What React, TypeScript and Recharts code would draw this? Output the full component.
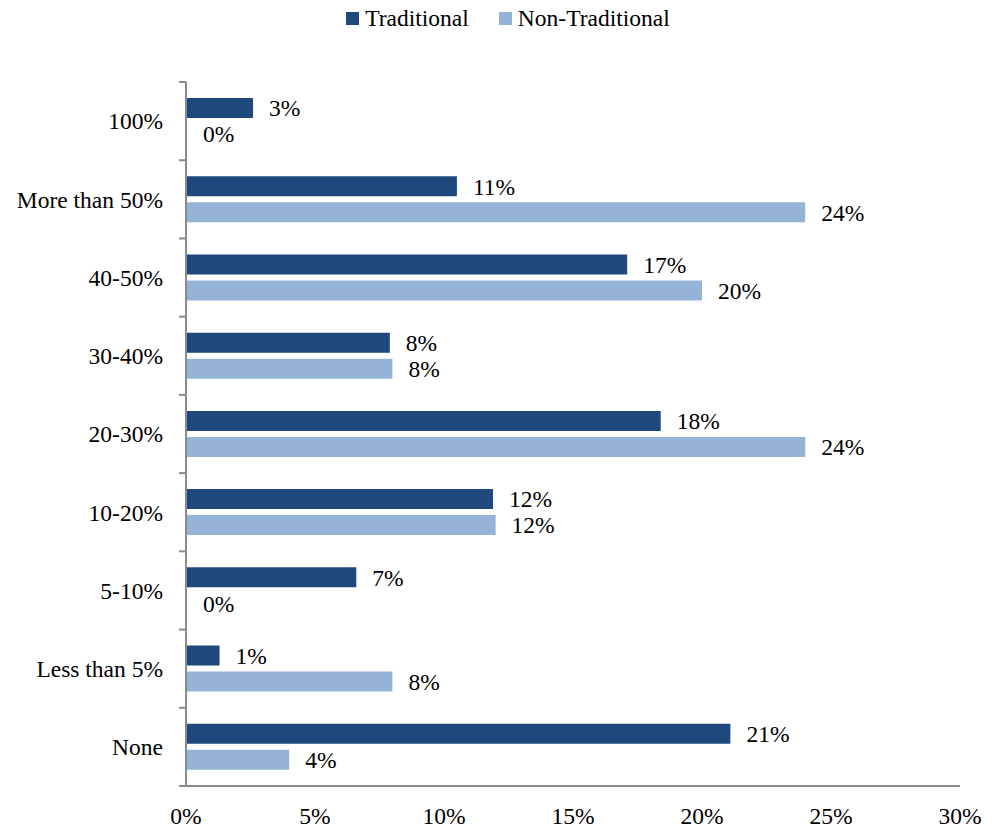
import {
  BarChart,
  Bar,
  XAxis,
  YAxis,
  Legend,
  LabelList,
} from "recharts";

const categories = [
  "100%",
  "More than 50%",
  "40-50%",
  "30-40%",
  "20-30%",
  "10-20%",
  "5-10%",
  "Less than 5%",
  "None",
];
const traditional = [2.6, 10.5, 17.1, 7.9, 18.4, 11.9, 6.6, 1.3, 21.1];
const nonTraditional = [0, 24.0, 20.0, 8.0, 24.0, 12.0, 0, 8.0, 4.0];
const xTicks = [0, 5, 10, 15, 20, 25, 30];

const DARK = "#1F497D";
const LIGHT = "#95B3D7";
const AXIS = "#8a8a8a";
const FONT = "'Liberation Serif', 'Times New Roman', serif";
const FS = 23.5;

const WIDTH = 989;
const HEIGHT = 821;
const MARGIN = { top: 74, right: 37, bottom: 13, left: 0 };
const Y_AXIS_W = 178;
const X_AXIS_H = 30;
const PLOT_H = HEIGHT - MARGIN.top - MARGIN.bottom - X_AXIS_H;
const BAND = PLOT_H / categories.length;

const data = categories.map((name, i) => ({
  name,
  traditional: traditional[i],
  nonTraditional: nonTraditional[i],
}));

const pct = (v: unknown) => `${Math.round(Number(v))}%`;

// labels centred in the band, tick marks sit on the band edges
function CategoryTick(props: any) {
  const { y, payload, index } = props;
  const axisX = Y_AXIS_W;
  const half = BAND / 2;
  return (
    <g>
      <line x1={axisX - 7} x2={axisX} y1={y - half} y2={y - half} stroke={AXIS} strokeWidth={2} />
      {index === categories.length - 1 && (
        <line x1={axisX - 7} x2={axisX} y1={y + half} y2={y + half} stroke={AXIS} strokeWidth={2} />
      )}
      <text x={axisX - 23} y={y} dy="0.355em" textAnchor="end" fill="#000" fontSize={FS} fontFamily={FONT}>
        {payload.value}
      </text>
    </g>
  );
}

function LegendContent() {
  const items = [
    { label: "Traditional", color: DARK },
    { label: "Non-Traditional", color: LIGHT },
  ];
  return (
    <div
      style={{
        display: "flex",
        justifyContent: "center",
        paddingLeft: 11,
        gap: 30,
        fontFamily: FONT,
        fontSize: FS,
        lineHeight: "21px",
        color: "#000",
      }}
    >
      {items.map((it) => (
        <div key={it.label} style={{ display: "flex", alignItems: "center" }}>
          <span style={{ width: 13, height: 13, background: it.color, marginRight: 6, display: "inline-block" }} />
          <span>{it.label}</span>
        </div>
      ))}
    </div>
  );
}

export default function App() {
  return (
    <BarChart
      width={WIDTH}
      height={HEIGHT}
      data={data}
      layout="vertical"
      margin={MARGIN}
      barSize={20}
      barGap={6}
      style={{ fontFamily: FONT }}
    >
      <Legend
        layout="vertical"
        align="center"
        verticalAlign="middle"
        content={<LegendContent />}
        wrapperStyle={{ top: 0, left: 0, width: WIDTH, height: 30 }}
      />
      <Bar dataKey="traditional" name="Traditional" fill={DARK} isAnimationActive={false} minPointSize={1}>
        <LabelList dataKey="traditional" position="right" offset={16} formatter={pct} fill="#000" fontSize={FS} fontFamily={FONT} />
      </Bar>
      <Bar dataKey="nonTraditional" name="Non-Traditional" fill={LIGHT} isAnimationActive={false} minPointSize={1}>
        <LabelList dataKey="nonTraditional" position="right" offset={16} formatter={pct} fill="#000" fontSize={FS} fontFamily={FONT} />
      </Bar>
      <XAxis
        type="number"
        domain={[0, 30]}
        ticks={xTicks}
        tickFormatter={(v: number) => `${v}%`}
        axisLine={{ stroke: AXIS, strokeWidth: 2 }}
        tickLine={false}
        tickSize={0}
        tickMargin={21}
        height={X_AXIS_H}
        tick={{ fill: "#000", fontSize: FS, fontFamily: FONT }}
        interval={0}
      />
      <YAxis
        type="category"
        dataKey="name"
        width={Y_AXIS_W}
        axisLine={{ stroke: AXIS, strokeWidth: 2 }}
        tickLine={false}
        tick={<CategoryTick />}
        interval={0}
      />
    </BarChart>
  );
}
